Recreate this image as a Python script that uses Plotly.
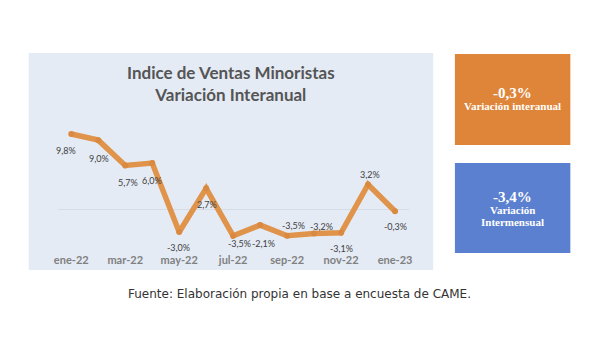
import plotly.graph_objects as go

months = ["ene-22", "feb-22", "mar-22", "abr-22", "may-22", "jun-22", "jul-22",
          "ago-22", "sep-22", "oct-22", "nov-22", "dic-22", "ene-23"]
values = [9.8, 9.0, 5.7, 6.0, -3.0, 2.7, -3.5, -2.1, -3.5, -3.2, -3.1, 3.2, -0.3]
labels = ["9,8%", "9,0%", "5,7%", "6,0%", "-3,0%", "2,7%", "-3,5%", "-2,1%",
          "-3,5%", "-3,2%", "-3,1%", "3,2%", "-0,3%"]
tick_labels = ["ene-22", "mar-22", "may-22", "jul-22", "sep-22", "nov-22", "ene-23"]

# label offsets in px (style)
label_dx = [-5, 1, 3, 0, -1, 1, 6, 3, 6, 7, 0, 2, 0]
label_dy = [-16, -18, -17, -17, -16, -16, -8, -18, 10, 7, -16, 10, -15]

W, H = 600, 360
def px(x): return x / W
def py(y): return 1 - y / H

fig = go.Figure()
fig.add_trace(go.Scatter(
    x=months, y=values, mode="lines+markers",
    line=dict(color="#E0934A", width=5.5),
    marker=dict(color="#D98A40", size=6),
    hoverinfo="skip", showlegend=False,
))

annotations = []
for m, v, t, dx, dy in zip(months, values, labels, label_dx, label_dy):
    annotations.append(dict(x=m, y=v, xref="x", yref="y", text=t, showarrow=False,
                            xshift=dx, yshift=dy, xanchor="center", yanchor="middle",
                            font=dict(family="Lato", size=9, color="#404040")))

def box_text(x, y, text, size):
    return dict(x=px(x), y=py(y), xref="paper", yref="paper", xanchor="center",
                yanchor="middle", text="<b>" + text + "</b>", showarrow=False,
                font=dict(family="Liberation Serif", size=size, color="white"))

annotations += [
    dict(x=px(230), y=py(83), xref="paper", yref="paper", xanchor="center", yanchor="middle",
         text="<b>Indice de Ventas Minoristas<br>Variación Interanual</b>",
         showarrow=False, font=dict(family="Lato", size=17, color="#555555")),
    box_text(515, 93, "-0,3%", 15),
    box_text(515, 106, "Variación interanual", 11),
    box_text(515, 197, "-3,4%", 15),
    box_text(515, 210, "Variación", 11),
    box_text(515, 222, "Intermensual", 11),
    dict(x=px(299), y=py(294), xref="paper", yref="paper", xanchor="center", yanchor="middle",
         text="Fuente: Elaboración propia en base a encuesta de CAME.",
         showarrow=False, font=dict(family="DejaVu Sans", size=12, color="#333333")),
]

shapes = [
    dict(type="rect", xref="paper", yref="paper", x0=px(25), x1=px(435), y0=py(270), y1=py(53),
         fillcolor="#E4EBF5", line=dict(width=0), layer="below"),
    dict(type="rect", xref="paper", yref="paper", x0=px(457), x1=px(574), y0=py(145), y1=py(54),
         fillcolor="#DF8539", line=dict(width=0), layer="below"),
    dict(type="rect", xref="paper", yref="paper", x0=px(457), x1=px(574), y0=py(253), y1=py(163),
         fillcolor="#5B80CF", line=dict(width=0), layer="below"),
]

fig.update_layout(
    width=W, height=H,
    margin=dict(l=0, r=0, t=0, b=0),
    paper_bgcolor="white", plot_bgcolor="rgba(0,0,0,0)",
    annotations=annotations, shapes=shapes,
    xaxis=dict(domain=[px(54.5), px(410)], type="category",
               range=[-0.5, 12.5], showgrid=False, zeroline=False, showline=False,
               tickmode="array", tickvals=tick_labels,
               ticktext=["<b>" + t + "</b>" for t in tick_labels],
               ticks="", tickfont=dict(family="Lato", size=11, color="#808080"),
               fixedrange=True),
    yaxis=dict(domain=[py(252), py(110)], range=[-5.62, 12.94],
               showgrid=False, showticklabels=False, zeroline=True,
               zerolinecolor="#D5DCE6", zerolinewidth=1, showline=False, fixedrange=True),
)

fig.write_html("out.html", config={"displayModeBar": False},
               post_script="document.body.style.margin='0px';")
